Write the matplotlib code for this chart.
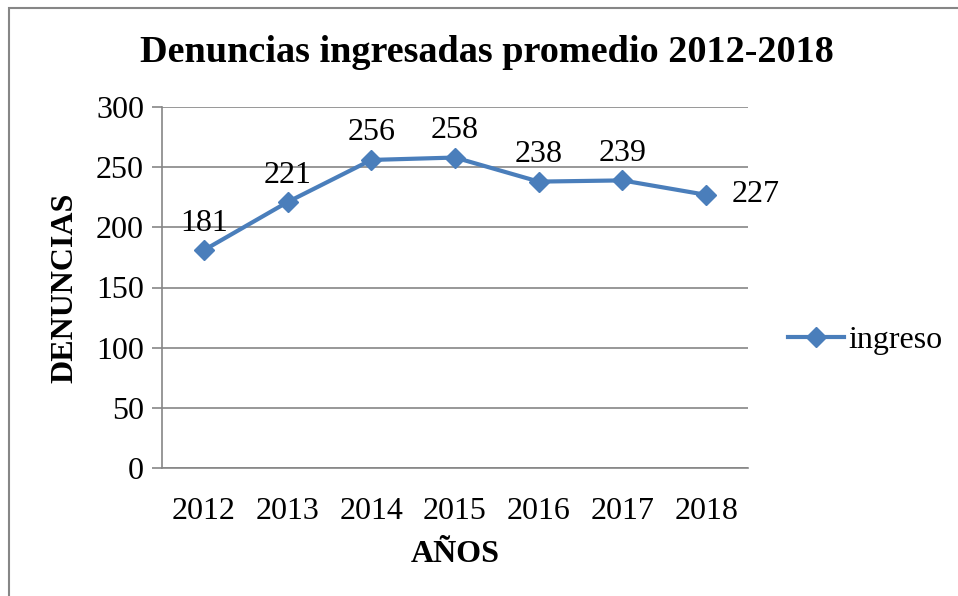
import matplotlib
matplotlib.use("Agg")
import matplotlib.pyplot as plt
from matplotlib.patches import Rectangle

years = ["2012", "2013", "2014", "2015", "2016", "2017", "2018"]
ingreso = [181, 221, 256, 258, 238, 239, 227]
yticks = [0, 50, 100, 150, 200, 250, 300]

plt.rcParams['font.family'] = ['Liberation Serif', 'DejaVu Serif']

W, H = 958, 596
fig = plt.figure(figsize=(W/100, H/100), dpi=100)
ax = fig.add_axes([162/W, 1-468/H, (748-162)/W, (468-107)/H])

color = '#4A7EBB'
x = list(range(len(years)))
ax.plot(x, ingreso, color=color, lw=3, marker='D', markersize=10,
        markerfacecolor=color, markeredgecolor=color, label='ingreso', zorder=3)

for i, v in enumerate(ingreso):
    if i == len(ingreso) - 1:
        ax.annotate(str(v), (i, v), xytext=(18, 0), textcoords='offset points',
                    ha='left', va='center', fontsize=23)
    else:
        ax.annotate(str(v), (i, v), xytext=(0, 9), textcoords='offset points',
                    ha='center', va='bottom', fontsize=23)

ax.set_xlim(-0.5, len(years) - 0.5)
ax.set_ylim(0, 300)
ax.set_yticks(yticks)
ax.set_xticks(x)
ax.set_xticklabels(years)
ax.tick_params(axis='both', labelsize=23, colors='black')
ax.tick_params(axis='y', length=7, color='#868686', width=1.2, pad=6)
ax.tick_params(axis='x', length=0, pad=21)
ax.grid(axis='y', color='#868686', lw=1.2)
ax.set_axisbelow(True)
for s in ['top', 'right']:
    ax.spines[s].set_visible(False)
for s in ['left', 'bottom']:
    ax.spines[s].set_color('#868686')
    ax.spines[s].set_linewidth(1.2)

ax.set_ylabel('DENUNCIAS', fontsize=23, fontweight='bold', labelpad=12)
ax.set_xlabel('AÑOS', fontsize=23, fontweight='bold', labelpad=10)
fig.text(487/W, 1-52/H, 'Denuncias ingresadas promedio 2012-2018',
         ha='center', va='center', fontsize=27.5, fontweight='bold')

leg = fig.legend(loc='center left', bbox_to_anchor=(788/W, 1-340/H),
                 frameon=False, fontsize=23, handlelength=1.75,
                 handletextpad=0.15, borderpad=0, borderaxespad=0)

fig.patches.append(Rectangle((9/W, -0.1), 1.2, 1 - 8/H + 0.1,
                             transform=fig.transFigure, fill=False,
                             edgecolor='#868686', lw=1.5))

fig.savefig('out.png', dpi=100)
